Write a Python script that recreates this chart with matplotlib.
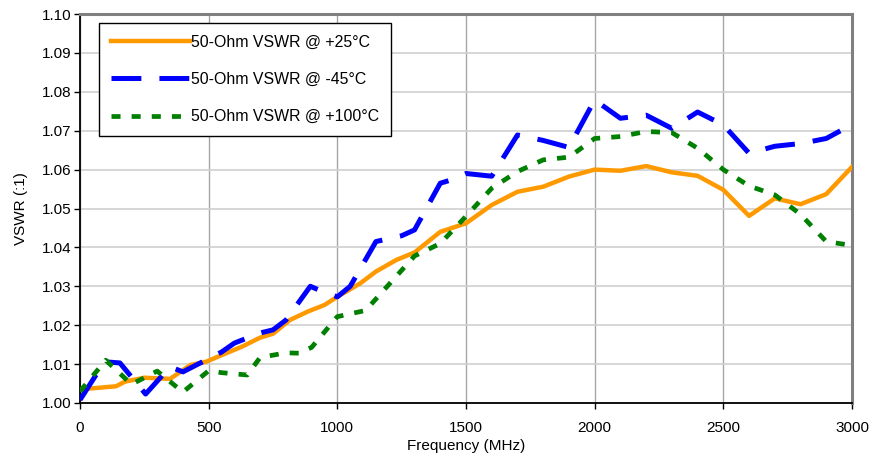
import matplotlib

matplotlib.use("Agg")
import matplotlib.pyplot as plt  # noqa: E402
from matplotlib.ticker import MultipleLocator, FormatStrFormatter  # noqa: E402

# 50-Ohm VSWR, one frequency list per series
freq_25 = [0, 140, 175, 250, 350, 430, 490, 550, 630, 700, 750, 815, 885, 950,
           1000, 1090, 1150, 1230, 1300, 1400, 1500, 1600, 1700, 1800, 1900,
           2000, 2100, 2200, 2300, 2400, 2500, 2600, 2700, 2800, 2900, 3000]
vswr_25 = [1.0035, 1.0043, 1.0055, 1.0065, 1.0062, 1.0098, 1.0106, 1.0123,
           1.0145, 1.0168, 1.0178, 1.0213, 1.0235, 1.0252, 1.0273, 1.0308,
           1.0338, 1.0368, 1.0387, 1.0440, 1.0462, 1.0509, 1.0543, 1.0556,
           1.0582, 1.0600, 1.0597, 1.0609, 1.0593, 1.0584, 1.0548, 1.0481,
           1.0526, 1.0511, 1.0537, 1.0607]

freq_m45 = [0, 95, 155, 255, 350, 400, 550, 600, 700, 750, 800, 895, 955,
            1000, 1050, 1150, 1250, 1300, 1400, 1440, 1500, 1600, 1700, 1800,
            1900, 2000, 2100, 2200, 2300, 2400, 2500, 2600, 2700, 2800, 2900,
            3000]
vswr_m45 = [1.0008, 1.0106, 1.0103, 1.0023, 1.0093, 1.0080, 1.0131, 1.0154,
            1.0180, 1.0188, 1.0213, 1.0300, 1.0283, 1.0273, 1.0300, 1.0415,
            1.0430, 1.0445, 1.0565, 1.0573, 1.0590, 1.0583, 1.0689, 1.0675,
            1.0657, 1.0779, 1.0732, 1.0740, 1.0706, 1.0748, 1.0715, 1.0642,
            1.0660, 1.0667, 1.0680, 1.0716]

freq_100 = [0, 100, 200, 300, 400, 500, 550, 650, 700, 800, 850, 900, 1000,
            1110, 1300, 1400, 1500, 1600, 1700, 1800, 1900, 2000, 2100, 2200,
            2300, 2400, 2500, 2600, 2700, 2800, 2900, 3000]
vswr_100 = [1.0030, 1.0110, 1.0048, 1.0082, 1.0028, 1.0083, 1.0078, 1.0072,
            1.0117, 1.0129, 1.0128, 1.0143, 1.0222, 1.0238, 1.0378, 1.0410,
            1.0480, 1.0552, 1.0595, 1.0625, 1.0632, 1.0680, 1.0685, 1.0698,
            1.0695, 1.0655, 1.0600, 1.0558, 1.0535, 1.0485, 1.0415, 1.0405]

labels = ["50-Ohm VSWR @ +25°C", "50-Ohm VSWR @ -45°C", "50-Ohm VSWR @ +100°C"]
title = "50-Ohm VSWR vs. Frequency vs. Temperature"

plt.rcParams["font.family"] = ["Liberation Sans", "DejaVu Sans"]
plt.rcParams["lines.scale_dashes"] = False

fig = plt.figure(figsize=(8.72, 4.58), dpi=100)
ax = fig.add_axes([80 / 872, 1 - 403 / 458, 772 / 872, 389 / 458])

ax.plot(freq_25, vswr_25, color="#ff9900", lw=3.2, label=labels[0], zorder=3)
ax.plot(freq_m45, vswr_m45, color="#0000ff", lw=3.6, dashes=(21.5, 13),
        dash_capstyle="butt", label=labels[1], zorder=4)
ax.plot(freq_100, vswr_100, color="#008000", lw=3.4, dashes=(6.5, 8),
        dash_capstyle="butt", label=labels[2], zorder=5)

ax.set_xlim(0, 3000)
ax.set_ylim(1.00, 1.10)
ax.xaxis.set_major_locator(MultipleLocator(500))
ax.yaxis.set_major_locator(MultipleLocator(0.01))
ax.yaxis.set_major_formatter(FormatStrFormatter("%.2f"))
ax.grid(axis="x", color="#a6a6a6", lw=1.0, zorder=0)
ax.grid(axis="y", color="#cfcfcf", lw=1.2, zorder=0)
ax.tick_params(labelsize=11, length=4, width=1, direction="out", pad=2)
ax.tick_params(axis="x", pad=9)
for side in ("left", "bottom"):
    ax.spines[side].set_color("black")
    ax.spines[side].set_linewidth(1.3)
for side in ("top", "right"):
    ax.spines[side].set_color("#808080")
    ax.spines[side].set_linewidth(2.2)

ax.set_xlabel("Frequency (MHz)", fontsize=11, labelpad=3)
ax.set_ylabel("VSWR (:1)", fontsize=11, labelpad=10)

leg = ax.legend(loc="upper left", bbox_to_anchor=(0.0246, 0.977), fontsize=11.4,
                handlelength=5.0, handletextpad=0.05, labelspacing=1.4,
                borderpad=0.75, borderaxespad=0, fancybox=False, framealpha=1)
leg.get_frame().set_edgecolor("black")
leg.get_frame().set_linewidth(1.0)

# title sits above the canvas, only its descenders show
fig.text(746 / 872, 1 + 5 / 458, title, ha="right", va="baseline",
         fontsize=18, fontweight="bold")

fig.savefig("out.png", dpi=100)
